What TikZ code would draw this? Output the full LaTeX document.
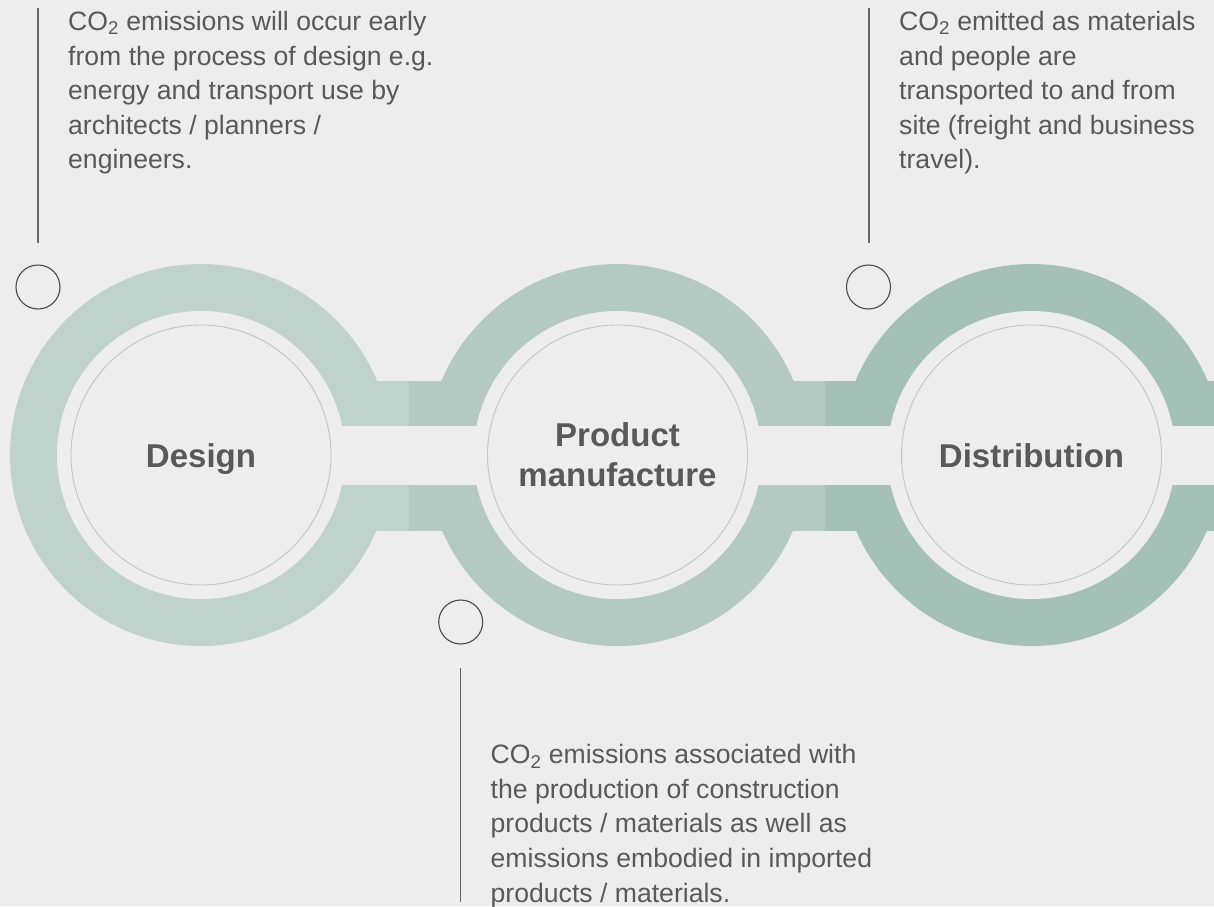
\documentclass[tikz,border=0pt]{standalone}
\usepackage{fontspec}
\setmainfont{Liberation Sans}
\definecolor{bg}{HTML}{EDEDED}
\definecolor{ringA}{HTML}{BFD3CC}
\definecolor{ringB}{HTML}{B3C9C1}
\definecolor{ringC}{HTML}{A5C1B7}
\definecolor{txt}{HTML}{595959}
\definecolor{spotline}{HTML}{4A4A4A}
\definecolor{leadcol}{HTML}{666666}
\definecolor{innercol}{HTML}{C4C4C4}
\begin{document}
\begin{tikzpicture}[x=1pt,y=-1pt,
  notetext/.style={anchor=north west, inner sep=0pt, align=left, text=txt, font=\fontsize{26.6}{34.6}\selectfont},
  stagelabel/.style={inner sep=0pt, align=center, text=txt, font=\bfseries\fontsize{33}{40.3}\selectfont},
  spot/.style={circle, draw=spotline, line width=1.1pt, minimum size=44pt, inner sep=0pt},
  leadline/.style={draw=leadcol, line width=1.2pt},
  innerring/.style={circle, draw=innercol, line width=0.9pt, minimum size=260pt, inner sep=0pt}]
\useasboundingbox (0,0) rectangle (1214,906);
\begin{scope}
\clip (0,0) rectangle (1214,906);
\fill[bg] (0,0) rectangle (1214,906);
% bars
\fill[ringA] (201,381) rectangle (409,426);
\fill[ringA] (201,485) rectangle (409,531);
\fill[ringB] (409,381) rectangle (825,426);
\fill[ringB] (409,485) rectangle (825,531);
\fill[ringC] (825,381) rectangle (1214,426);
\fill[ringC] (825,485) rectangle (1214,531);
% rings
\fill[ringA] (201,455) circle (191);
\fill[ringB] (617.5,455) circle (191);
\fill[ringC] (1031.5,455) circle (191);
% holes
\fill[bg] (201,455) circle (144);
\fill[bg] (617.5,455) circle (144);
\fill[bg] (1031.5,455) circle (144);
% gap strip
\fill[bg] (201,426) rectangle (1214,485);
\end{scope}
% inner circles
\node[innerring] (design) at (201,455) {};
\node[innerring] (product) at (617.5,455) {};
\node[innerring] (distribution) at (1031.5,455) {};
% stage labels
\node[stagelabel, anchor=base] (designlabel) at (201,467.7) {Design};
\node[stagelabel, anchor=north] (productlabel) at (617.5,422.3) {Product\\manufacture};
\node[stagelabel, anchor=base] (distlabel) at (1031.5,467.7) {Distribution};
% markers
\node[spot] (spotA) at (38,287) {};
\node[spot] (spotB) at (460.7,622) {};
\node[spot] (spotC) at (868.5,287) {};
% leader lines
\coordinate (leadAtop) at (38,8);
\coordinate (leadAbot) at (38,243);
\coordinate (leadBtop) at (460.7,668);
\coordinate (leadBbot) at (460.7,902);
\coordinate (leadCtop) at (869,8);
\coordinate (leadCbot) at (869,243);
\draw[leadline] (leadAtop) -- (leadAbot);
\draw[leadline] (leadBtop) -- (leadBbot);
\draw[leadline] (leadCtop) -- (leadCbot);
% notes
\node[notetext] (noteA) at (68,11) {CO\textsubscript{2} emissions will occur early\\from the process of design e.g.\\energy and transport use by\\architects / planners /\\engineers.};
\node[notetext] (noteC) at (899,11) {CO\textsubscript{2} emitted as materials\\and people are\\transported to and from\\site (freight and business\\travel).};
\node[notetext] (noteB) at (490.5,744.3) {CO\textsubscript{2} emissions associated with\\the production of construction\\products / materials as well as\\emissions embodied in imported\\products / materials.};
\end{tikzpicture}
\end{document}
